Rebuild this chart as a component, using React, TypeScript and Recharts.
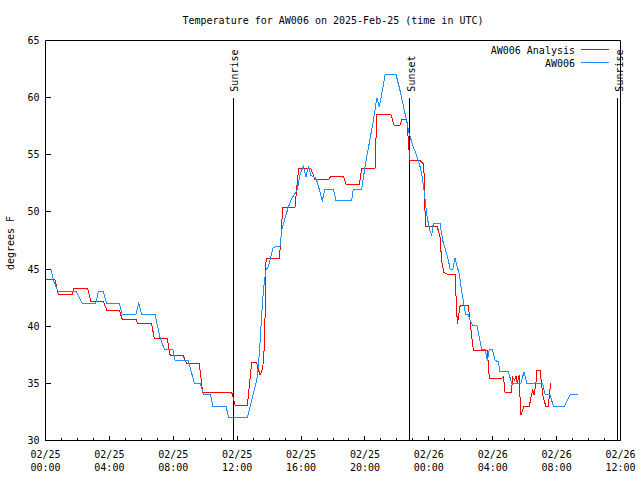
import { LineChart, Line, XAxis, YAxis, ReferenceLine, Customized } from "recharts";

const FONT = "DejaVu Sans Mono";
const RED = "#ff0000";
const BLUE = "#1e90ff";

// hours since 02/25 00:00 UTC
const ANALYSIS_HOURS = [
  0, 0.59, 0.8, 1.68, 1.78, 2.64, 2.83, 3.62, 3.83, 4.62,
  4.81, 5.67, 5.77, 6.65, 6.81, 7.63, 7.81, 8.63, 8.84, 9.63,
  9.84, 11.66, 11.87, 12.64, 12.76, 12.91, 13.23, 13.43, 13.6, 13.7,
  13.75, 13.81, 14.64, 14.75, 14.85, 15.62, 15.79, 15.87, 16.61, 16.88,
  17.71, 17.86, 18.65, 18.82, 19.65, 19.8, 20.63, 20.74, 21.63, 21.82,
  22.2, 22.31, 22.62, 22.76, 22.82, 23.45, 23.66, 23.72, 23.76, 23.81,
  24.53, 24.7, 24.81, 24.95, 25.22, 25.64, 25.75, 25.79, 25.87, 25.96,
  26.47, 26.58, 26.69, 26.79, 27.66, 27.79, 28.52, 28.67, 28.77, 29.15,
  29.26, 29.36, 29.46, 29.54, 29.65, 29.76, 29.84, 29.96, 30.29, 30.4,
  30.51, 30.59, 30.7, 30.76, 30.97, 31.13, 31.32, 31.48, 31.55, 31.63,
];
const ANALYSIS_TEMPS = [
  44.1, 44.1, 42.8, 42.8, 43.3, 43.3, 42.2, 42.2, 41.4, 41.4,
  40.6, 40.6, 40.2, 40.2, 38.9, 38.9, 37.4, 37.4, 36.7, 36.7,
  34.2, 34.2, 33.1, 33.1, 34.8, 36.8, 36.8, 35.7, 36.3, 38.2,
  41.1, 45.9, 45.9, 47.9, 50.4, 50.4, 53, 53.8, 53.8, 52.8,
  52.8, 53.1, 53.1, 52.4, 52.4, 53.8, 53.8, 58.5, 58.5, 57.6,
  57.6, 58.1, 58.1, 55.4, 54.5, 54.5, 54.2, 52.9, 50.1, 48.7,
  48.7, 47.8, 45.6, 44.7, 44.5, 44.5, 41.2, 40.2, 41, 41.8,
  41.8, 40.5, 39, 37.9, 37.9, 35.4, 35.4, 35.6, 34.2, 34.2,
  35.5, 35.3, 35.6, 35, 35.7, 32.2, 32.5, 33, 33, 33.8,
  34.4, 34, 34.9, 36.1, 36.1, 34, 33, 33, 34, 35,
];

const OBS_HOURS = [
  0, 0.33, 0.53, 0.8, 1.95, 2.3, 3.14, 3.31, 3.62, 3.83,
  4.62, 4.81, 5.65, 5.84, 6.02, 6.86, 7.17, 7.44, 7.97, 8.11,
  8.94, 9.32, 9.67, 9.93, 10.34, 10.47, 11.3, 11.47, 12.64, 12.81,
  13.01, 13.23, 13.39, 13.54, 13.64, 13.79, 13.95, 14.26, 14.68, 14.79,
  15.0, 15.2, 15.42, 15.62, 15.77, 15.94, 16.14, 16.31, 16.46, 16.61,
  16.88, 17.02, 17.19, 17.33, 17.5, 18.02, 18.19, 19.17, 19.27, 19.8,
  19.9, 20.11, 20.32, 20.53, 20.74, 20.9, 21.05, 21.26, 21.95, 22.2,
  22.51, 22.78, 23.03, 23.24, 23.41, 23.56, 23.7, 23.87, 24.03, 24.18,
  24.28, 24.7, 24.87, 25.06, 25.22, 25.33, 25.5, 25.64, 25.75, 25.91,
  26.02, 26.16, 26.31, 26.47, 26.58, 26.75, 27.0, 27.16, 27.31, 27.52,
  27.66, 27.79, 27.98, 28.15, 28.35, 28.46, 28.98, 29.19, 29.76, 29.96,
  30.13, 31.13, 31.28, 31.59, 31.8, 32.49, 32.84, 33.33,
];
const OBS_TEMPS = [
  45, 45, 43.9, 43, 43, 42, 42, 43, 43, 42,
  42, 41, 41, 42, 41, 41, 39, 38, 38, 37,
  37, 35, 35, 34, 34, 33, 33, 32, 32, 33,
  34.1, 35.3, 37.6, 41.1, 43.1, 44.9, 45.2, 46.9, 47, 48.4,
  49.5, 50.4, 51.2, 51.6, 52, 53.3, 54, 53.1, 54, 53.2,
  53, 52.6, 51.7, 51, 52, 52, 51, 51, 52, 52,
  53, 54.8, 56.4, 58, 60, 59.2, 60.3, 62, 62, 60.6,
  58.6, 56.8, 55.7, 54.9, 54.2, 53.3, 51.9, 49.8, 48.5, 48,
  49, 49, 47.5, 46.6, 45.8, 45, 45, 46, 45.3, 44.6,
  43.4, 42.2, 41, 41, 40.5, 40.1, 40.1, 39, 38, 38,
  37, 38, 38, 37, 36.9, 36, 36, 35, 35, 36,
  35, 35, 34, 34, 33, 33, 34, 34,
];

const EVENT_HOURS = [11.76, 22.82, 35.82];
const EVENT_NAMES = ["Sunrise", "Sunset", "Sunrise"];
const EVENT_TOP = 60;

const HOUR_TICKS = Array.from({ length: 37 }, (_, i) => i);
const MAJOR_HOURS = [0, 4, 8, 12, 16, 20, 24, 28, 32, 36];
const DATE_LABELS = ["02/25", "02/25", "02/25", "02/25", "02/25", "02/25", "02/26", "02/26", "02/26", "02/26"];
const TIME_LABELS = ["00:00", "04:00", "08:00", "12:00", "16:00", "20:00", "00:00", "04:00", "08:00", "12:00"];
const TEMP_TICKS = [30, 35, 40, 45, 50, 55, 60, 65];

const analysisData = ANALYSIS_HOURS.map((h, i) => ({ hour: h, temp: ANALYSIS_TEMPS[i] }));
const obsData = OBS_HOURS.map((h, i) => ({ hour: h, temp: OBS_TEMPS[i] }));

const txt = { fontFamily: FONT, fontSize: 10, fill: "#000" };

function BottomTick(props: any) {
  const { x, y, payload } = props;
  const i = MAJOR_HOURS.indexOf(payload.value);
  return (
    <g>
      <line x1={x} x2={x} y1={y} y2={y - (i >= 0 ? 5 : 3)} stroke="#000" shapeRendering="crispEdges" />
      {i >= 0 && (
        <text x={x} y={y + 17} textAnchor="middle" {...txt}>
          <tspan x={x}>{DATE_LABELS[i]}</tspan>
          <tspan x={x} dy={13}>{TIME_LABELS[i]}</tspan>
        </text>
      )}
    </g>
  );
}

function TopTick(props: any) {
  const { x, y, payload } = props;
  const major = MAJOR_HOURS.includes(payload.value);
  return <line x1={x} x2={x} y1={y} y2={y + (major ? 5 : 3)} stroke="#000" shapeRendering="crispEdges" />;
}

function LeftTick(props: any) {
  const { x, y, payload } = props;
  return (
    <g>
      <line x1={x} x2={x + 5} y1={y} y2={y} stroke="#000" shapeRendering="crispEdges" />
      <text x={x - 6} y={y} dy="0.35em" textAnchor="end" {...txt}>
        {payload.value}
      </text>
    </g>
  );
}

function RightTick(props: any) {
  const { x, y } = props;
  return <line x1={x} x2={x - 5} y1={y} y2={y} stroke="#000" shapeRendering="crispEdges" />;
}

function EventLabel(props: any) {
  const { viewBox, text } = props;
  const x = viewBox.x + 1.5;
  const y = viewBox.y - 6;
  return (
    <text x={x} y={y} dy="0.35em" textAnchor="start" transform={`rotate(-90 ${x} ${y})`} {...txt}>
      {text}
    </text>
  );
}

function Decorations() {
  return (
    <g>
      <text x={333} y={24} textAnchor="middle" {...txt}>
        Temperature for AW006 on 2025-Feb-25 (time in UTC)
      </text>
      <text x={14} y={243} textAnchor="middle" transform="rotate(-90 14 243)" {...txt}>
        degrees F
      </text>
      {/* legend */}
      <text x={575} y={54} textAnchor="end" {...txt}>AW006 Analysis</text>
      <line x1={581} x2={609} y1={49.5} y2={49.5} stroke={RED} />
      <text x={575} y={67} textAnchor="end" {...txt}>AW006</text>
      <line x1={581} x2={609} y1={62.5} y2={62.5} stroke={BLUE} />
    </g>
  );
}

export default function App() {
  return (
    <div style={{ position: "absolute", left: 0, top: 0, width: 640, height: 480, background: "#fff" }}>
      <LineChart width={640} height={480} margin={{ top: 39.5, right: 18.5, bottom: 0, left: 0 }}>
        <XAxis
          dataKey="hour"
          type="number"
          domain={[0, 36]}
          ticks={HOUR_TICKS}
          interval={0}
          height={39.5}
          tickSize={0}
          tickMargin={0}
          tickLine={false}
          axisLine={{ stroke: "#000" }}
          tick={<BottomTick />}
          allowDataOverflow
        />
        <XAxis
          xAxisId="top"
          orientation="top"
          type="number"
          domain={[0, 36]}
          ticks={HOUR_TICKS}
          interval={0}
          height={1}
          tickSize={0}
          tickMargin={0}
          tickLine={false}
          axisLine={{ stroke: "#000" }}
          tick={<TopTick />}
        />
        <YAxis
          type="number"
          domain={[30, 65]}
          ticks={TEMP_TICKS}
          interval={0}
          width={45.5}
          tickSize={0}
          tickMargin={0}
          tickLine={false}
          axisLine={{ stroke: "#000" }}
          tick={<LeftTick />}
          allowDataOverflow
        />
        <YAxis
          yAxisId="right"
          orientation="right"
          type="number"
          domain={[30, 65]}
          ticks={TEMP_TICKS}
          interval={0}
          width={1}
          tickSize={0}
          tickMargin={0}
          tickLine={false}
          axisLine={{ stroke: "#000" }}
          tick={<RightTick />}
        />
        {EVENT_HOURS.map((h, i) => (
          <ReferenceLine
            key={i}
            segment={[
              { x: h, y: 30 },
              { x: h, y: EVENT_TOP },
            ]}
            stroke="#000"
            strokeWidth={1}
            shapeRendering="crispEdges"
            label={<EventLabel text={EVENT_NAMES[i]} />}
          />
        ))}
        <Line
          data={analysisData}
          dataKey="temp"
          name="AW006 Analysis"
          type="linear"
          stroke={RED}
          strokeWidth={1}
          shapeRendering="crispEdges"
          dot={false}
          isAnimationActive={false}
        />
        <Line
          data={obsData}
          dataKey="temp"
          name="AW006"
          type="linear"
          stroke={BLUE}
          strokeWidth={1}
          shapeRendering="crispEdges"
          dot={false}
          isAnimationActive={false}
        />
        <Customized component={<Decorations />} />
      </LineChart>
    </div>
  );
}
